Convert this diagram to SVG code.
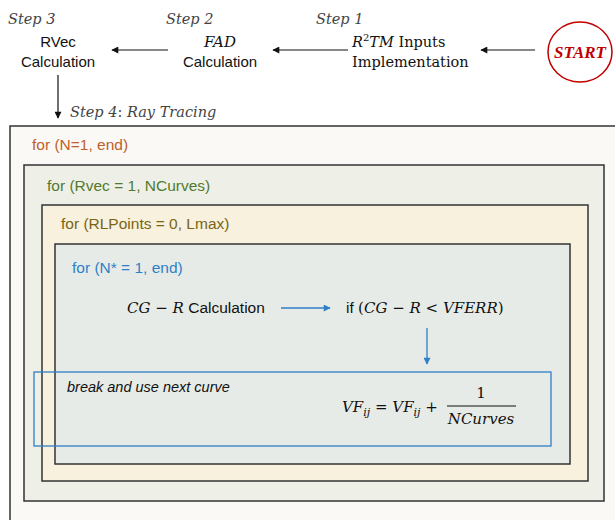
<svg xmlns="http://www.w3.org/2000/svg" width="615" height="520" viewBox="0 0 615 520">
<style>
.sans{font-family:"Liberation Sans",Arial,sans-serif;}
.ser{font-family:"DejaVu Serif","Liberation Serif",serif;}
.it{font-style:italic;}
.step{font-family:"DejaVu Serif","Liberation Serif",serif;font-style:italic;font-size:14.5px;fill:#444;}
.lbl{font-family:"Liberation Sans",Arial,sans-serif;font-size:15px;fill:#111;}
.loop{font-family:"Liberation Sans",Arial,sans-serif;font-size:15.5px;}
.box{stroke:#333;stroke-width:1.5;}
.blk{stroke:#111;stroke-width:1.2;fill:none;}
.blu{stroke:#2f7fc8;stroke-width:1.3;fill:none;}
</style>
<defs>
<marker id="ah" viewBox="0 0 10 10" refX="9" refY="5" markerWidth="8" markerHeight="7" markerUnits="userSpaceOnUse" orient="auto"><path d="M0,0 L10,5 L0,10 z" fill="#111"/></marker>
<marker id="ahb" viewBox="0 0 10 10" refX="9" refY="5" markerWidth="8" markerHeight="7" markerUnits="userSpaceOnUse" orient="auto"><path d="M0,0 L10,5 L0,10 z" fill="#2f7fc8"/></marker>
</defs>
<rect width="615" height="520" fill="#ffffff"/>

<g id="loop-n">
<rect class="box" x="10" y="126" width="610" height="400" fill="#fbf9f5"/>
<text class="loop" x="32" y="150" fill="#c0602a">for (N=1, end)</text>
</g>
<g id="loop-rvec">
<rect class="box" x="24" y="165" width="580" height="336" fill="#eef0e7"/>
<text class="loop" x="47" y="191" fill="#527a2e">for (Rvec = 1, NCurves)</text>
</g>
<g id="loop-rlpoints">
<rect class="box" x="42" y="205" width="546" height="276" fill="#f7f1de"/>
<text class="loop" x="61" y="229" fill="#7a6512">for (RLPoints = 0, Lmax)</text>
</g>
<g id="loop-nstar">
<rect class="box" x="55" y="244" width="515" height="220" fill="#e7ebe7"/>
<text class="loop" x="72" y="273" fill="#2f7fc8">for (N* = 1, end)</text>
</g>

<g id="start">
<ellipse cx="580" cy="52" rx="32" ry="30" fill="#ffffff" stroke="#c00000" stroke-width="1.5"/>
<text x="580" y="58" font-family="Liberation Serif,serif" font-size="17" font-weight="bold" font-style="italic" fill="#c00000" text-anchor="middle">START</text>
</g>
<g id="step1">
<text class="step" x="316" y="24">Step 1</text>
<text class="ser" x="352" y="47" font-size="14.5" fill="#111"><tspan font-style="italic">R</tspan><tspan font-size="10" dy="-6">2</tspan><tspan font-style="italic" dy="6">TM</tspan> Inputs</text>
<text class="ser" x="352" y="67" font-size="14.5" fill="#111">Implementation</text>
</g>
<g id="step2">
<text class="step" x="166" y="24">Step 2</text>
<text class="ser it" x="220" y="47" font-size="15" fill="#111" text-anchor="middle">FAD</text>
<text class="lbl" x="220" y="67" text-anchor="middle">Calculation</text>
</g>
<g id="step3">
<text class="step" x="8" y="24">Step 3</text>
<text class="lbl" x="58" y="47" text-anchor="middle">RVec</text>
<text class="lbl" x="58" y="67" text-anchor="middle">Calculation</text>
</g>
<g id="step4">
<text class="step" x="70" y="117">Step 4<tspan font-style="normal">:</tspan> Ray Tracing</text>
</g>
<g id="cgr">
<text x="127" y="313" font-size="15" fill="#111"><tspan class="ser it">CG</tspan><tspan class="ser"> − </tspan><tspan class="ser it">R</tspan><tspan class="sans" font-size="15.5"> Calculation</tspan></text>
</g>
<g id="ifcond">
<text x="346" y="313" font-size="15" fill="#111"><tspan class="sans" font-size="15.5">if </tspan><tspan class="ser">(</tspan><tspan class="ser it">CG</tspan><tspan class="ser"> − </tspan><tspan class="ser it">R</tspan><tspan class="ser"> &lt; </tspan><tspan class="ser it">VFERR</tspan><tspan class="ser">)</tspan></text>
</g>
<g id="update">
<rect class="blu" x="34" y="372" width="517" height="74"/>
<text class="sans it" x="67" y="392" font-size="14.5" fill="#111">break and use next curve</text>
<text class="ser" x="342" y="412" font-size="15" fill="#111"><tspan font-style="italic">VF</tspan><tspan font-style="italic" font-size="11" dy="4">ij</tspan><tspan dy="-4"> = </tspan><tspan font-style="italic">VF</tspan><tspan font-style="italic" font-size="11" dy="4">ij</tspan><tspan dy="-4"> + </tspan></text>
<line x1="447" y1="406" x2="516" y2="406" stroke="#111" stroke-width="1"/>
<text class="ser" x="481" y="398" font-size="15" fill="#111" text-anchor="middle">1</text>
<text class="ser it" x="481" y="424" font-size="15" fill="#111" text-anchor="middle">NCurves</text>
</g>

<g id="connectors">
<line class="blk" x1="535" y1="50" x2="481" y2="50" marker-end="url(#ah)"/>
<line class="blk" x1="348" y1="50" x2="273" y2="50" marker-end="url(#ah)"/>
<line class="blk" x1="168" y1="50" x2="112" y2="50" marker-end="url(#ah)"/>
<line class="blk" x1="58" y1="75" x2="58" y2="118" marker-end="url(#ah)"/>
<line class="blu" x1="281" y1="308" x2="330" y2="308" marker-end="url(#ahb)"/>
<line class="blu" x1="427" y1="328" x2="427" y2="364" marker-end="url(#ahb)"/>
</g>
</svg>
